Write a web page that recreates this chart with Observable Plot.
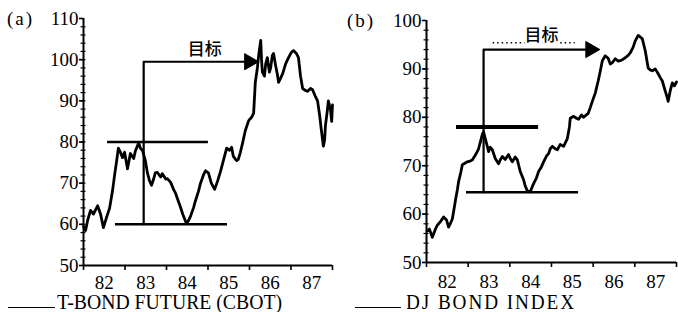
<!DOCTYPE html>
<html><head><meta charset="utf-8">
<script src="https://cdn.jsdelivr.net/npm/d3@7"></script>
<script src="https://cdn.jsdelivr.net/npm/@observablehq/plot@0.6"></script>
<style>
html,body{margin:0;padding:0;background:#fff;}
body{width:678px;height:312px;overflow:hidden;position:relative;font-family:"Liberation Serif",serif;color:#000;}
#pa,#pb{position:absolute;top:0;}
#pa{left:0;} #pb{left:339px;}
#pa svg [aria-label$="tick label"], #pa svg [aria-label$="tick label"] text,
#pb svg [aria-label$="tick label"], #pb svg [aria-label$="tick label"] text {
  font-family: "Liberation Serif", "Times New Roman", serif !important; font-size: 19px !important;
}
.lab{position:absolute;font-size:19px;line-height:1;white-space:nowrap;letter-spacing:2px;}
.cap{position:absolute;font-size:20px;line-height:16px;white-space:nowrap;display:inline-block;transform-origin:left bottom;}
.uline{position:absolute;height:0;border-bottom:1.6px solid #000;}
</style></head><body>
<div id="pa"></div><div id="pb"></div>
<div class="lab" style="left:7px;top:9px;">(a)</div>
<div class="lab" style="left:347px;top:11px;">(b)</div>
<div class="uline" style="left:8px;width:47px;top:307px;"></div>
<div class="cap" id="capA" style="left:57px;top:294px;">T-BOND FUTURE (CBOT)</div>
<div class="uline" style="left:355px;width:46px;top:307px;"></div>
<div class="cap" id="capB" style="left:406px;top:294px;letter-spacing:2px;">DJ BOND INDEX</div>
<script>
// ---- Panel (a): T-bond future (CBOT) ----
const tbondYear = [1982.00,1982.05,1982.10,1982.17,1982.24,1982.34,1982.41,1982.48,1982.55,1982.63,
1982.70,1982.75,1982.80,1982.84,1982.89,1982.94,1982.99,1983.06,1983.13,1983.21,
1983.25,1983.33,1983.37,1983.42,1983.49,1983.54,1983.59,1983.64,1983.69,1983.73,
1983.78,1983.86,1983.90,1983.98,1984.02,1984.10,1984.17,1984.22,1984.29,1984.34,
1984.39,1984.43,1984.48,1984.53,1984.58,1984.65,1984.70,1984.77,1984.82,1984.89,
1984.94,1985.01,1985.08,1985.16,1985.23,1985.30,1985.37,1985.45,1985.52,1985.57,
1985.61,1985.69,1985.73,1985.78,1985.83,1985.90,1985.98,1986.05,1986.10,1986.14,
1986.19,1986.22,1986.27,1986.29,1986.31,1986.36,1986.39,1986.43,1986.48,1986.51,
1986.55,1986.58,1986.63,1986.67,1986.70,1986.75,1986.80,1986.87,1986.94,1987.01,
1987.06,1987.13,1987.18,1987.23,1987.28,1987.35,1987.40,1987.47,1987.52,1987.59,
1987.64,1987.69,1987.73,1987.78,1987.81,1987.83,1987.88,1987.90,1987.95,1987.98,
1988.00];
const tbondValue = [59.5,58.5,61,63.4,62.5,64.5,62.5,59.2,61.5,64,
68.2,72,75.5,78.5,77.5,76.2,77.5,73.5,77.2,76,
77.8,79.8,78.5,78,75.5,72.5,70.6,69.5,71,72.5,
72.6,71.5,72.3,71,71.1,70.2,68.5,67.5,65.5,64.1,
62.5,61.5,60.2,60.9,62,64,65.8,68,70,72,
73,72.5,70,68.5,70.5,72.8,75.5,78.5,78,78.7,
76.5,75.5,75.8,77.5,79.6,82.8,85.2,86,87,94.5,
98,101,104.7,100,97,96,99,100.5,97,98,
101,101.5,98.5,96.5,94.5,95.5,96.6,99,100.5,101.8,
102.2,101.5,100.5,96,93,92.5,92.3,93,92.7,91,
90,86.5,83,79,80.5,84,88,90,88,85,
89];
const levelA = [80, 60];
const levelStartA = [1982.58, 1982.77];
const levelEndA = [1985.01, 1985.47];
const bracketYearA = [1983.45, 1983.45, 1986.0];
const bracketValueA = [60, 99.5, 99.5];
const arrowTipA = [1986.14];
const targetLabelA = {year: 1984.92, value: 102.4, text: "目标"};
const yTicksA = [50, 60, 70, 80, 90, 100, 110];

// ---- Panel (b): DJ bond index ----
const djYear = [1982.02,1982.07,1982.14,1982.22,1982.26,1982.34,1982.41,1982.48,1982.53,1982.58,
1982.62,1982.67,1982.70,1982.74,1982.77,1982.82,1982.86,1982.94,1982.98,1983.06,
1983.10,1983.18,1983.25,1983.29,1983.34,1983.37,1983.41,1983.46,1983.49,1983.53,
1983.58,1983.65,1983.73,1983.77,1983.82,1983.89,1983.97,1984.01,1984.06,1984.13,
1984.18,1984.25,1984.33,1984.37,1984.42,1984.49,1984.57,1984.64,1984.69,1984.76,
1984.81,1984.88,1984.93,1984.97,1985.02,1985.09,1985.14,1985.21,1985.29,1985.38,
1985.43,1985.45,1985.53,1985.60,1985.65,1985.72,1985.77,1985.81,1985.88,1985.93,
1985.98,1986.05,1986.12,1986.17,1986.22,1986.29,1986.36,1986.41,1986.46,1986.53,
1986.60,1986.65,1986.72,1986.77,1986.84,1986.89,1986.96,1987.01,1987.08,1987.13,
1987.18,1987.25,1987.32,1987.37,1987.42,1987.49,1987.56,1987.61,1987.66,1987.73,
1987.78,1987.80,1987.85,1987.90,1987.95,1988.00];
const djValue = [56.5,56.9,55.2,57,57.7,58.5,59.4,58.8,57.3,58.2,
59,61.5,63.1,65,66.7,68.5,70.2,70.6,70.8,71,
71.2,72.3,73.5,74.8,76.5,77,75.6,74,72.9,73.8,
73.3,71.5,70.4,71.2,71.9,71.3,72.3,71.5,70.8,71.8,
71.2,68.8,67.1,65.8,64.8,64.6,66.3,67.5,68.8,69.8,
70.8,72,72.5,73.5,74,73.5,73.3,74.4,74,75.6,
78,79.8,80.2,79.8,79.6,80.5,80,80.3,80.8,82,
83.3,85,87.5,89.5,91.7,92.7,92.2,91,91.3,92.1,
91.6,91.7,92,92.3,92.8,93.3,94.5,95.8,96.9,96.6,
96.2,93.75,90.2,89.8,89.6,90,89,88.2,87.5,85.4,
84,83.3,85.5,87.1,86.5,87.3];
const levelB = [78, 64.5];
const levelStartB = [1982.72, 1982.96];
const levelEndB = [1984.69, 1985.65];
const levelWidthB = [4, 2.5];
const bracketYearB = [1983.37, 1983.37, 1985.95];
const bracketValueB = [64.5, 94, 94];
const arrowTipB = [1986.08];
const dottedB = {from: 1983.6, to: 1985.57, value: 95.4};
const targetLabelB = {year: 1984.76, value: 96.9, text: "目标"};
const yTicksB = [50, 60, 70, 80, 90, 100];

const yearBounds = [1982, 1983, 1984, 1985, 1986, 1987, 1988];
const yearMids = [1982.5, 1983.5, 1984.5, 1985.5, 1986.5, 1987.5];

const serif = '"Liberation Serif", "Times New Roman", serif';
const zip = (xs, ys) => xs.map((x, i) => ({x, y: ys[i]}));
const style = {fontFamily: serif, fontSize: "19px", color: "#000", background: "transparent", overflow: "visible"};

function panel({width, ml, mr, mt, mb, ymax, yTicks, series, levels, levelWidths, bracket, tip, label, dotted, padX}) {
  const marks = [
    Plot.ruleX([1982], {y1: 50, y2: ymax, strokeWidth: 2}),
    Plot.ruleY([50], {x1: 1982, x2: 1988, strokeWidth: 2}),
    Plot.axisY({ticks: d3.range(52, ymax, 2), tickSize: 5, dx: 2.5, tickFormat: () => "", strokeWidth: 1.2}),
    Plot.axisY({ticks: yTicks, tickSize: 4, tickPadding: 1, fontSize: 19, fontFamily: serif, strokeWidth: 1.6}),
    Plot.axisX({ticks: yearBounds, tickSize: 5, tickFormat: () => "", strokeWidth: 1.6}),
    Plot.axisX({ticks: yearMids, tickSize: 0, tickPadding: padX, fontSize: 19, fontFamily: serif, tickFormat: d => String(Math.floor(d) - 1900)}),
    Plot.ruleY(levels.level, {y: d => d, x1: (d, i) => levels.start[i], x2: (d, i) => levels.end[i], strokeWidth: (d, i) => levelWidths[i]}),
    Plot.line(zip(bracket.x, bracket.y), {x: "x", y: "y", strokeWidth: 2.2, strokeLinejoin: "round"}),
    Plot.dot(tip, {x: d => d, y: bracket.y[2], symbol: "triangle", rotate: 90, r: 6, fill: "black", stroke: "black", strokeWidth: 1, dx: -6}),
  ];
  if (dotted) marks.push(Plot.ruleY([dotted.value], {x1: dotted.from, x2: dotted.to, strokeWidth: 1.5, strokeDasharray: "1.5 3"}));
  marks.push(
    Plot.text([label], {x: "year", y: "value", text: "text", fontFamily: '"Noto Sans CJK SC", sans-serif', fontSize: 17, fontWeight: 500, fill: "black", stroke: "white", strokeWidth: 5}),
    Plot.line(series, {x: "x", y: "y", strokeWidth: 2.8, strokeLinejoin: "round", strokeLinecap: "round"})
  );
  return Plot.plot({
    width, height: 292, marginLeft: ml, marginRight: mr, marginTop: mt, marginBottom: mb,
    x: {domain: [1982, 1988]}, y: {domain: [50, ymax]},
    style, marks
  });
}

document.getElementById("pa").append(panel({
  width: 339, ml: 83, mr: 7, mt: 18, mb: 27, ymax: 110, yTicks: yTicksA,
  series: zip(tbondYear, tbondValue),
  levels: {level: levelA, start: levelStartA, end: levelEndA}, levelWidths: [2.5, 2.5],
  bracket: {x: bracketYearA, y: bracketValueA}, tip: arrowTipA, label: targetLabelA, padX: 10
}));
document.getElementById("pb").append(panel({
  width: 339, ml: 87, mr: 2, mt: 20, mb: 30, ymax: 100, yTicks: yTicksB,
  series: zip(djYear, djValue),
  levels: {level: levelB, start: levelStartB, end: levelEndB}, levelWidths: levelWidthB,
  bracket: {x: bracketYearB, y: bracketValueB}, tip: arrowTipB, label: targetLabelB, dotted: dottedB, padX: 12
}));

function fit(id, target) {
  const el = document.getElementById(id);
  const w = el.getBoundingClientRect().width;
  el.style.transform = `scaleX(${target / w})`;
}
fit("capA", 225);
fit("capB", 170);
</script>
</body></html>
